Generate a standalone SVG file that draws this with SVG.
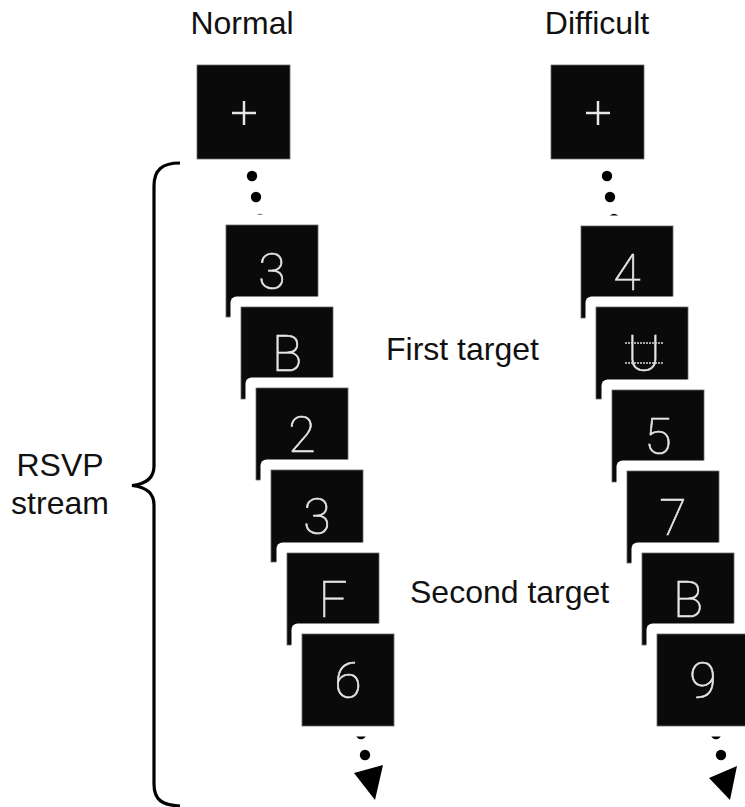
<svg xmlns="http://www.w3.org/2000/svg" width="745" height="807" viewBox="0 0 745 807">
<style>
.lbl{font-family:"Liberation Sans",Arial,sans-serif;font-size:32px;fill:#111}
.card{fill:#0a0a0a;stroke:#6a6a6a;stroke-width:0.8}
.back{fill:#ffffff}
.ch{font-family:"Roboto","DejaVu Sans",sans-serif;font-weight:100;font-size:50px;fill:#e6e6e6;stroke:#e6e6e6;stroke-width:0.6;text-anchor:middle}
.plus{stroke:#e6e6e6;stroke-width:2.5}
.dot{fill:#000}
.noise{stroke:#d8d8d8;stroke-width:1.6;stroke-dasharray:2 1}
</style>
<rect width="745" height="807" fill="#fff"/>
<g id="labels">
<text class="lbl" x="242" y="34" text-anchor="middle">Normal</text>
<text class="lbl" x="597" y="34" text-anchor="middle">Difficult</text>
<text class="lbl" x="386" y="360">First target</text>
<text class="lbl" x="410" y="603">Second target</text>
<text class="lbl" x="60" y="476" text-anchor="middle">RSVP</text>
<text class="lbl" x="60" y="514" text-anchor="middle">stream</text>
</g>
<g id="brace">
<path d="M180,163 C162,163 154,170 154,186 L154,466 C154,478 146,484 132,485.5 C146,487 154,493 154,505 L154,784 C154,800 162,805 180,806" fill="none" stroke="#000" stroke-width="3.2"/>
</g>
<g id="fixation-normal">
<rect class="card" x="197" y="65" width="93" height="94"/>
<line class="plus" x1="232" y1="113" x2="256" y2="113"/>
<line class="plus" x1="244" y1="101" x2="244" y2="125"/>
</g>
<g id="fixation-difficult">
<rect class="card" x="551" y="65" width="93" height="94"/>
<line class="plus" x1="586" y1="113" x2="610" y2="113"/>
<line class="plus" x1="598" y1="101" x2="598" y2="125"/>
</g>
<g id="connectors">
<circle class="dot" cx="252" cy="176" r="5.2"/>
<circle class="dot" cx="256" cy="197" r="5.2"/>
<circle class="dot" cx="260" cy="219" r="5.2"/>
<circle class="dot" cx="361" cy="734" r="5.2"/>
<circle class="dot" cx="365" cy="755" r="5.2"/>
<polygon class="dot" points="354,773 383,765 375,800"/>
<circle class="dot" cx="607" cy="176" r="5.2"/>
<circle class="dot" cx="610" cy="197" r="5.2"/>
<circle class="dot" cx="614" cy="219" r="5.2"/>
<circle class="dot" cx="716" cy="734" r="5.2"/>
<circle class="dot" cx="721" cy="755" r="5.2"/>
<polygon class="dot" points="709,778 737,766 730,800"/>
</g>
<g id="normal-1"><rect class="back" x="215.5" y="214.5" width="113" height="113" rx="6"/><rect class="card" x="226" y="225" width="92" height="92"/><text class="ch" x="272" y="289">3</text></g>
<g id="normal-2"><rect class="back" x="230.5" y="296.5" width="113" height="113" rx="6"/><rect class="card" x="241" y="307" width="92" height="92"/><text class="ch" x="287" y="371">B</text></g>
<g id="normal-3"><rect class="back" x="245.5" y="377.5" width="113" height="113" rx="6"/><rect class="card" x="256" y="388" width="92" height="92"/><text class="ch" x="302" y="452">2</text></g>
<g id="normal-4"><rect class="back" x="260.5" y="459.5" width="113" height="113" rx="6"/><rect class="card" x="271" y="470" width="92" height="92"/><text class="ch" x="317" y="534">3</text></g>
<g id="normal-5"><rect class="back" x="276.5" y="542.5" width="113" height="113" rx="6"/><rect class="card" x="287" y="553" width="92" height="92"/><text class="ch" x="333" y="617">F</text></g>
<g id="normal-6"><rect class="back" x="291.5" y="623.5" width="113" height="113" rx="6"/><rect class="card" x="302" y="634" width="92" height="92"/><text class="ch" x="348" y="698">6</text></g>
<g id="difficult-1"><rect class="back" x="570.5" y="215.5" width="113" height="113" rx="6"/><rect class="card" x="581" y="226" width="92" height="92"/><text class="ch" x="627" y="290">4</text></g>
<g id="difficult-2"><rect class="back" x="585.5" y="296.5" width="113" height="113" rx="6"/><rect class="card" x="596" y="307" width="92" height="92"/><text class="ch" x="644" y="371">U</text><line class="noise" x1="625" y1="343" x2="663" y2="343"/><line class="noise" x1="625" y1="363" x2="663" y2="363"/></g>
<g id="difficult-3"><rect class="back" x="601.5" y="379.5" width="113" height="113" rx="6"/><rect class="card" x="612" y="390" width="92" height="92"/><text class="ch" x="658" y="454">5</text></g>
<g id="difficult-4"><rect class="back" x="616.5" y="460.5" width="113" height="113" rx="6"/><rect class="card" x="627" y="471" width="92" height="92"/><text class="ch" x="673" y="535">7</text></g>
<g id="difficult-5"><rect class="back" x="631.5" y="542.5" width="113" height="113" rx="6"/><rect class="card" x="642" y="553" width="92" height="92"/><text class="ch" x="688" y="617">B</text></g>
<g id="difficult-6"><rect class="back" x="646.5" y="623.5" width="113" height="113" rx="6"/><rect class="card" x="657" y="634" width="92" height="92"/><text class="ch" x="703" y="698">9</text></g>
</svg>
